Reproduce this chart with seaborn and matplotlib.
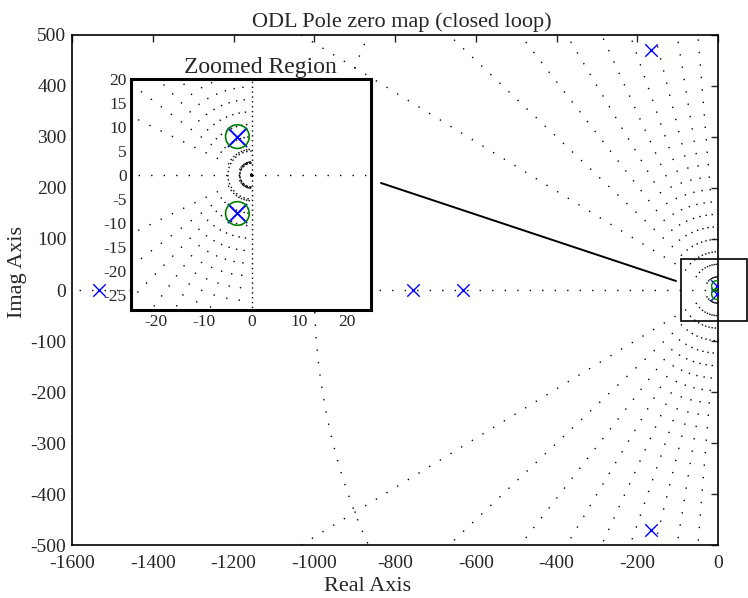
import numpy as np
import pandas as pd
import matplotlib
matplotlib.use("Agg")
import matplotlib.pyplot as plt
from matplotlib.lines import Line2D
from matplotlib.patches import Rectangle
import seaborn as sns

# Closed-loop poles and zeros
pole_re = [-1532, -756, -632, -167, -167, -3, -3]
pole_im = [0, 0, 0, 471, -471, 8, -8]
zero_re = [-3, -3]
zero_im = [8, -8]

# s-plane grid: damping ratios and natural-frequency circles
zeta_vals = [0.0, 0.1, 0.2, 0.3, 0.4, 0.5, 0.6, 0.7, 0.8, 0.9]
wn_main = [1000]
wn_zoom = [2.5, 5]

x_ticks = [-1600, -1400, -1200, -1000, -800, -600, -400, -200, 0]
y_ticks = [-500, -400, -300, -200, -100, 0, 100, 200, 300, 400, 500]
zx_ticks = [-20, -10, 0, 10, 20]
zy_ticks = [20, 15, 10, 5, 0, -5, -10, -15, -20, -25]

poles = pd.DataFrame({"re": pole_re, "im": pole_im})
zeros = pd.DataFrame({"re": zero_re, "im": zero_im})

sns.set_style("white")
plt.rcParams["font.family"] = ["Liberation Serif", "DejaVu Serif"]
plt.rcParams["axes.unicode_minus"] = False

BLUE = "#0000ff"
GREEN = "#008000"
DOT = (0, (1, 8))


def draw_grid(ax, radius, wns, dot_ray, dot_im, dot_circ, right_real=False):
    for z in zeta_vals:
        s = np.sqrt(1 - z ** 2)
        ls = dot_im if z == 0 else dot_ray
        for sign in (1, -1):
            ax.plot([0, -radius * z], [0, sign * radius * s], color="k",
                    lw=1.0, ls=ls, zorder=1)
    ax.plot([0, -radius], [0, 0], color="k", lw=1.0, ls=dot_ray, zorder=1)
    if right_real:
        ax.plot([0, radius], [0, 0], color="k", lw=1.0, ls=dot_ray, zorder=1)
    th = np.linspace(np.pi / 2, 3 * np.pi / 2, 400)
    for w, ls in zip(wns, dot_circ):
        ax.plot(w * np.cos(th), w * np.sin(th), color="k", lw=1.0, ls=ls,
                zorder=1)


fig = plt.figure(figsize=(7.48, 5.98), dpi=100)

# Main pole-zero map
ax = fig.add_axes([0.0963, 0.0886, 0.8639, 0.8529])
draw_grid(ax, 4000, wn_main, DOT, DOT, [DOT])
sns.scatterplot(data=poles, x="re", y="im", marker="x", s=80, color=BLUE,
                linewidth=1.0, ax=ax, zorder=3)
sns.scatterplot(data=zeros, x="re", y="im", marker="o", s=60,
                facecolor="none", edgecolor=GREEN, linewidth=1.0, ax=ax,
                zorder=3)
ax.set_xlim(-1600, 0)
ax.set_ylim(-500, 500)
ax.set_xticks(x_ticks)
ax.set_yticks(y_ticks)
ax.tick_params(direction="in", length=5, width=1.0, top=True, right=True,
               labelsize=14)
ax.tick_params(axis="x", pad=7)
ax.tick_params(axis="y", pad=4)
for sp in ax.spines.values():
    sp.set_linewidth(1.2)
    sp.set_color("k")
ax.set_title("ODL Pole zero map (closed loop)", fontsize=16, pad=6, x=0.51)
ax.set_xlabel("Real Axis", fontsize=16)
ax.set_ylabel("Imag Axis", fontsize=16)
ax.xaxis.set_label_coords(0.457, -0.062)
ax.yaxis.set_label_coords(-0.07, 0.535)

# Box marking the zoomed area around the origin
ax.add_patch(Rectangle((-92, -61), 164, 122, fill=False, lw=1.2,
                       ec="k", clip_on=False, zorder=4))
fig.add_artist(Line2D([381 / 748, 676 / 748], [1 - 183 / 598, 1 - 281 / 598],
                      color="k", lw=1.4, transform=fig.transFigure))

# Zoomed view near the origin
axz = fig.add_axes([131 / 748, 1 - 310 / 598, 240 / 748, 231 / 598])
axz.set_facecolor("white")
draw_grid(axz, 100, wn_zoom, DOT, (0, (1, 2.5)), [(0, (2, 0.8)), (0, (1, 2))],
          right_real=True)
sns.scatterplot(data=poles, x="re", y="im", marker="x", s=190, color=BLUE,
                linewidth=1.4, ax=axz, zorder=3)
sns.scatterplot(data=zeros, x="re", y="im", marker="o", s=290,
                facecolor="none", edgecolor=GREEN, linewidth=1.2, ax=axz,
                zorder=3)
axz.set_xlim(-25.3, 25)
axz.set_ylim(-28.1, 20)
axz.set_xticks(zx_ticks)
axz.set_yticks(zy_ticks)
axz.tick_params(length=0, labelsize=12.5, pad=3)
axz.set_xlabel("")
axz.set_ylabel("")
for sp in axz.spines.values():
    sp.set_linewidth(2.2)
    sp.set_color("k")
axz.set_title("Zoomed Region", fontsize=17, pad=4, x=0.54)

fig.savefig("out.png", dpi=100)
